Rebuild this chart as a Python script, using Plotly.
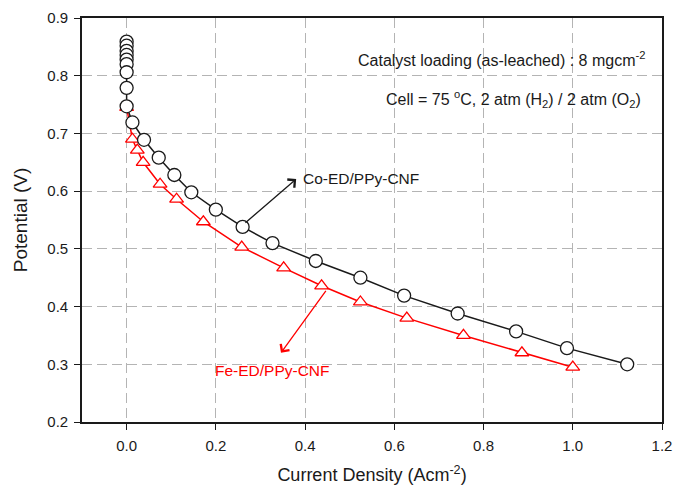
import plotly.graph_objects as go

# Co-ED/PPy-CNF (circles)
co_x = [0.0, 0.0, 0.0, 0.0, 0.0, 0.0, 0.0, 0.0, 0.0, 0.013, 0.039, 0.072, 0.107, 0.145,
        0.200, 0.260, 0.327, 0.424, 0.524, 0.622, 0.742, 0.873, 0.987, 1.122]
co_y = [0.859, 0.852, 0.843, 0.836, 0.828, 0.820, 0.806, 0.779, 0.747, 0.719, 0.689, 0.658,
        0.628, 0.598, 0.568, 0.538, 0.510, 0.479, 0.450, 0.419, 0.388, 0.357, 0.328, 0.300]

# Fe-ED/PPy-CNF (triangles)
fe_x = [0.0, 0.013, 0.024, 0.037, 0.075, 0.112, 0.172, 0.258, 0.352, 0.437, 0.524, 0.628,
        0.755, 0.886, 1.000]
fe_y = [0.745, 0.690, 0.671, 0.650, 0.612, 0.586, 0.547, 0.503, 0.467, 0.436, 0.408, 0.380,
        0.350, 0.320, 0.295]

x_ticks = [0.0, 0.2, 0.4, 0.6, 0.8, 1.0, 1.2]
x_tick_labels = ["0.0", "0.2", "0.4", "0.6", "0.8", "1.0", "1.2"]
y_ticks = [0.2, 0.3, 0.4, 0.5, 0.6, 0.7, 0.8, 0.9]
y_tick_labels = ["0.2", "0.3", "0.4", "0.5", "0.6", "0.7", "0.8", "0.9"]

FONT = "Arial, Liberation Sans, Helvetica, sans-serif"
INK = "#1a1a1a"

fig = go.Figure()
fig.add_trace(go.Scatter(
    x=fe_x, y=fe_y, mode="lines+markers", name="Fe-ED/PPy-CNF",
    line=dict(color="#ff0000", width=1.5),
    marker=dict(symbol="triangle-up", size=12, color="white",
                line=dict(color="#ff0000", width=1.3)),
))
fig.add_trace(go.Scatter(
    x=co_x, y=co_y, mode="lines+markers", name="Co-ED/PPy-CNF",
    line=dict(color=INK, width=1.5),
    marker=dict(symbol="circle", size=13, color="white",
                line=dict(color=INK, width=1.3)),
))

axis_common = dict(
    showline=True, linecolor=INK, linewidth=1.6, mirror=True,
    showgrid=True, gridcolor="#b4b4b4", gridwidth=1.4, griddash="10px,5px",
    ticks="outside", ticklen=6, tickcolor=INK, tickwidth=1.3,
    zeroline=False, automargin=False, ticklabeloverflow="allow",
    tickfont=dict(family=FONT, size=15, color=INK),
)

fig.update_xaxes(
    range=[-0.1, 1.2], tickmode="array", tickvals=x_ticks, ticktext=x_tick_labels,
    ticklabelstandoff=3,
    title=dict(text="Current Density (Acm<sup>-2</sup>)",
               font=dict(family=FONT, size=18, color=INK), standoff=16),
    **axis_common,
)
fig.update_yaxes(
    range=[0.2, 0.9], tickmode="array", tickvals=y_ticks, ticktext=y_tick_labels,
    ticklabelstandoff=3,
    title=dict(text="Potential (V)",
               font=dict(family=FONT, size=19, color=INK), standoff=15),
    **axis_common,
)

fig.add_annotation(
    x=0.380, y=0.621, ax=0.263, ay=0.543, xref="x", yref="y", axref="x", ayref="y",
    showarrow=True, arrowhead=4, arrowsize=1.6, arrowwidth=1.3, arrowcolor=INK,
    text="",
)
fig.add_annotation(
    x=0.391, y=0.6225, xref="x", yref="y", text="Co-ED/PPy-CNF", showarrow=False,
    xanchor="left", yanchor="middle",
    font=dict(family=FONT, size=15.5, color=INK),
)
fig.add_annotation(
    x=0.346, y=0.320, ax=0.449, ay=0.430, xref="x", yref="y", axref="x", ayref="y",
    showarrow=True, arrowhead=4, arrowsize=1.6, arrowwidth=1.3, arrowcolor="#ff0000",
    text="",
)
fig.add_annotation(
    x=0.193, y=0.289, xref="x", yref="y", text="Fe-ED/PPy-CNF", showarrow=False,
    xanchor="left", yanchor="middle",
    font=dict(family=FONT, size=15.5, color="#ff0000"),
)
fig.add_annotation(
    x=1.167, y=0.829, xref="x", yref="y",
    text="Catalyst loading (as-leached) : 8 mgcm<sup>-2</sup>", showarrow=False,
    xanchor="right", yanchor="middle",
    font=dict(family=FONT, size=16, color=INK),
)
fig.add_annotation(
    x=1.158, y=0.759, xref="x", yref="y",
    text="Cell = 75 <sup>o</sup>C, 2 atm (H<sub>2</sub>) / 2 atm (O<sub>2</sub>)",
    showarrow=False, xanchor="right", yanchor="middle",
    font=dict(family=FONT, size=16, color=INK),
)

fig.update_layout(
    width=675, height=493,
    margin=dict(l=82, r=13, t=18, b=71, autoexpand=False),
    paper_bgcolor="white", plot_bgcolor="white",
    showlegend=False,
    font=dict(family=FONT),
)

fig.write_html(
    "out.html",
    config={"displayModeBar": False},
    post_script="document.body.style.margin='0';document.body.style.overflow='hidden';",
)
